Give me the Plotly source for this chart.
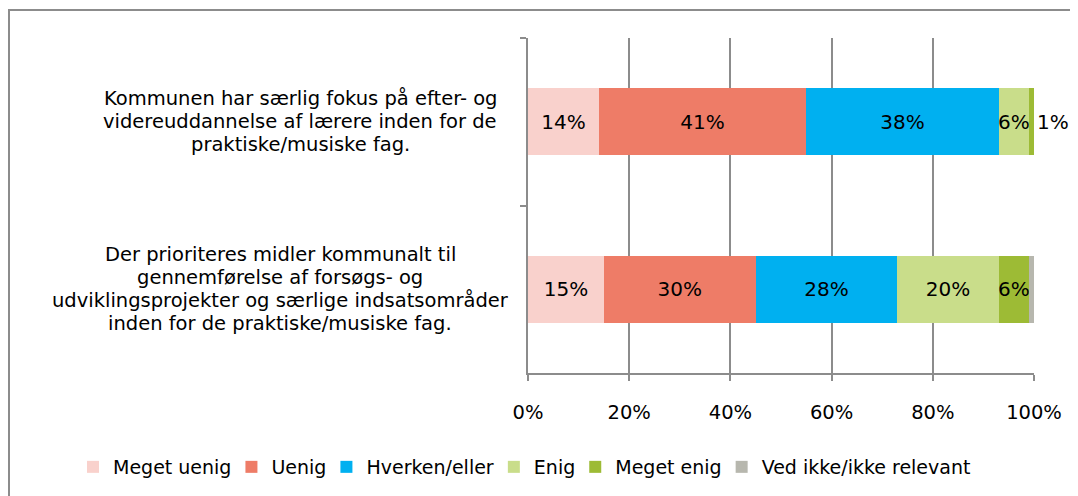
import plotly.graph_objects as go

categories = [
    ["Kommunen har særlig fokus på efter- og",
     "videreuddannelse af lærere inden for de",
     "praktiske/musiske fag."],
    ["Der prioriteres midler kommunalt til",
     "gennemførelse af forsøgs- og",
     "udviklingsprojekter og særlige indsatsområder",
     "inden for de praktiske/musiske fag."],
]
cat_ids = ["q1", "q2"]
series_names = ["Meget uenig", "Uenig", "Hverken/eller", "Enig", "Meget enig", "Ved ikke/ikke relevant"]
values = {
    "Meget uenig": [14, 15],
    "Uenig": [41, 30],
    "Hverken/eller": [38, 28],
    "Enig": [6, 20],
    "Meget enig": [1, 6],
    "Ved ikke/ikke relevant": [None, 1],
}
labels = {
    "Meget uenig": ["14%", "15%"],
    "Uenig": ["41%", "30%"],
    "Hverken/eller": ["38%", "28%"],
    "Enig": ["6%", "20%"],
    "Meget enig": ["1%", "6%"],
    "Ved ikke/ikke relevant": ["", ""],
}
colors = ["#F9D1CC", "#EE7C67", "#00B0F0", "#C9DD8A", "#9DBB35", "#B7B7AE"]
x_ticks = [0, 20, 40, 60, 80, 100]
x_tick_labels = ["0%", "20%", "40%", "60%", "80%", "100%"]

FONT = "Verdana, DejaVu Sans, sans-serif"
# page has an 8px body margin; figure coordinates are page - 8
W, H = 1070, 488
L, R, T, B = 520, 44, 30, 123
pw, ph = W - L - R, H - T - B
GRID = "#8C8C8C"

fig = go.Figure()
for name, col in zip(series_names, colors):
    # the narrow 1% segment of the first bar has its label just past the bar end
    tpos = ["outside", "inside"] if name == "Meget enig" else "inside"
    fig.add_trace(go.Bar(
        y=cat_ids, x=values[name], name=name, orientation="h",
        marker=dict(color=col, line=dict(width=0)),
        text=labels[name], textposition=tpos, insidetextanchor="middle",
        textangle=0,
        textfont=dict(family=FONT, size=20, color="#000000"),
        outsidetextfont=dict(family=FONT, size=20, color="#000000"),
        constraintext="none", cliponaxis=False,
        hoverinfo="x+name",
    ))

# category labels, one centred line at a time (23px line pitch)
block_centers = [292, 272]
LINE = 23
for cid, lines, cx in zip(cat_ids, categories, block_centers):
    n = len(lines)
    for i, line in enumerate(lines):
        fig.add_annotation(
            x=(cx - L) / pw, xref="paper", xanchor="center",
            y=cid, yref="y", yanchor="middle",
            yshift=-(i - (n - 1) / 2) * LINE,
            text=line, showarrow=False,
            font=dict(family=FONT, size=19.5, color="#000000"),
        )

# outer chart border
fig.add_shape(type="rect", xref="paper", yref="paper",
              x0=(1 - L) / pw, x1=(W + 30 - L) / pw,
              y0=(T + ph - (H + 30)) / ph, y1=(T + ph - 2) / ph,
              line=dict(color="#8C8C8C", width=2), fillcolor="rgba(0,0,0,0)", layer="below")

fig.update_layout(
    barmode="stack", bargap=0.6,
    width=W, height=H,
    margin=dict(l=L, r=R, t=T, b=B, autoexpand=False),
    paper_bgcolor="white", plot_bgcolor="white",
    font=dict(family=FONT, size=19, color="#000000"),
    uniformtext=dict(mode="show", minsize=20),
    showlegend=True,
    legend=dict(orientation="h", xref="paper", yref="paper",
                x=(70 - L) / pw, xanchor="left",
                y=(T + ph - 459) / ph, yanchor="middle",
                font=dict(family=FONT, size=19), traceorder="normal",
                itemwidth=30, indentation=-5, tracegroupgap=0,
                bgcolor="rgba(0,0,0,0)"),
    xaxis=dict(range=[0, 100], tickvals=x_ticks, ticktext=x_tick_labels,
               showgrid=True, gridcolor=GRID, gridwidth=1.5,
               showline=True, linecolor=GRID, linewidth=2,
               ticks="outside", ticklen=6, tickcolor=GRID, tickwidth=2,
               ticklabelstandoff=15, zeroline=False,
               tickfont=dict(family=FONT, size=19.5)),
    yaxis=dict(categoryorder="array", categoryarray=cat_ids, autorange="reversed",
               showticklabels=False, showgrid=False, zeroline=False,
               showline=True, linecolor=GRID, linewidth=2,
               ticks="outside", tickson="boundaries", ticklen=6,
               tickcolor=GRID, tickwidth=2),
)

fig.write_html("out.html")
